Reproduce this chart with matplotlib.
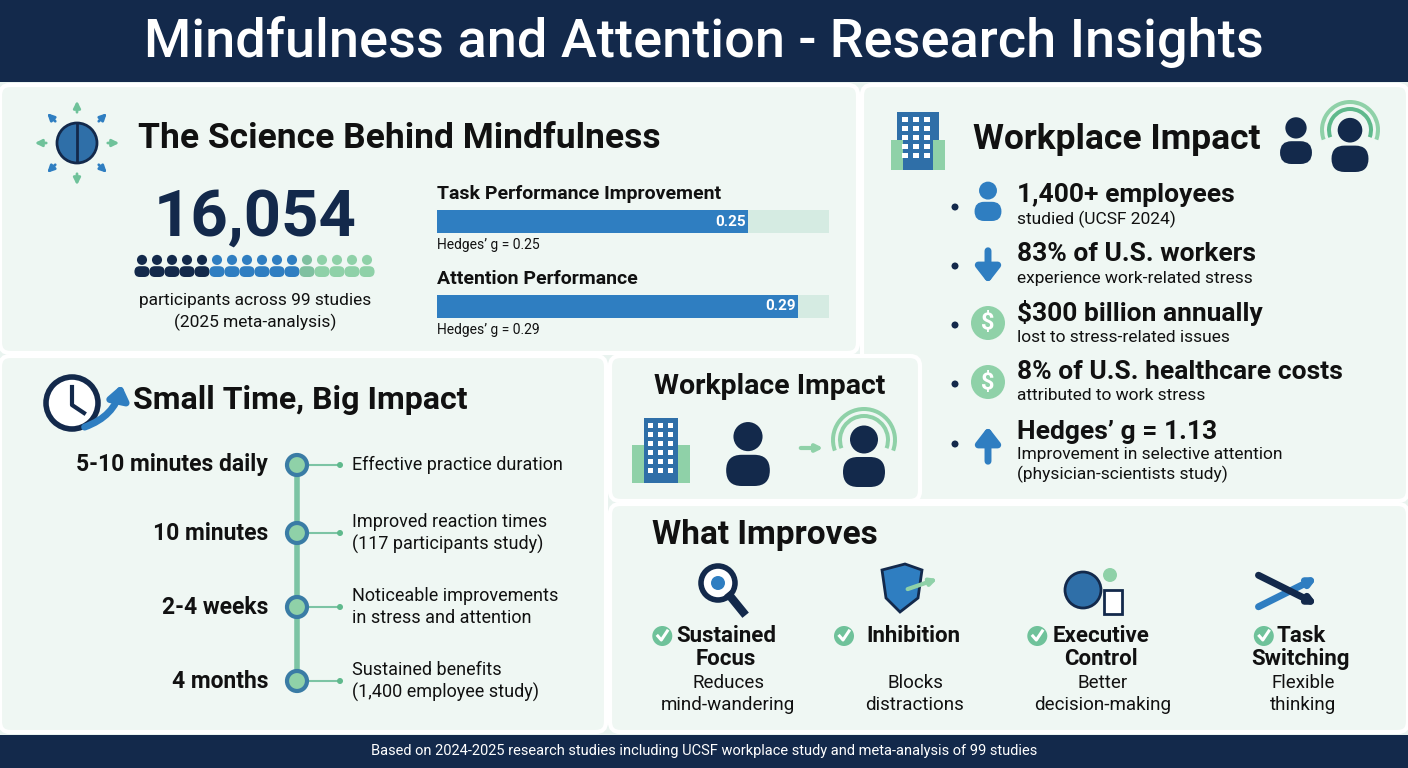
import matplotlib
matplotlib.use("Agg")
import matplotlib.pyplot as plt
from matplotlib.patches import FancyBboxPatch, Rectangle, Circle, Polygon, Wedge
import math

plt.rcParams['font.family'] = ['Roboto', 'DejaVu Sans']

# ---------------- data ----------------
title = "Mindfulness and Attention - Research Insights"
participants = "16,054"
participants_note = ["participants across 99 studies", "(2025 meta-analysis)"]
bar_titles = ["Task Performance Improvement", "Attention Performance"]
bar_values = [0.25, 0.29]
bar_notes = ["Hedges\u2019 g = 0.25", "Hedges\u2019 g = 0.29"]
timeline_labels = ["5-10 minutes daily", "10 minutes", "2-4 weeks", "4 months"]
timeline_notes = ["Effective practice duration",
                  "Improved reaction times\n(117 participants study)",
                  "Noticeable improvements\nin stress and attention",
                  "Sustained benefits\n(1,400 employee study)"]
stat_heads = ["1,400+ employees", "83% of U.S. workers", "$300 billion annually",
              "8% of U.S. healthcare costs", "Hedges\u2019 g = 1.13"]
stat_subs = ["studied (UCSF 2024)", "experience work-related stress",
             "lost to stress-related issues", "attributed to work stress",
             "Improvement in selective attention\n(physician-scientists study)"]
improve_heads = ["Sustained\nFocus", "Inhibition", "Executive\nControl", "Task\nSwitching"]
improve_subs = ["Reduces\nmind-wandering", "Blocks\ndistractions", "Better\ndecision-making", "Flexible\nthinking"]
footer = "Based on 2024-2025 research studies including UCSF workplace study and meta-analysis of 99 studies"

NAVY = "#13294b"
DARK = "#111111"
BLUE = "#2f7ec1"
GREEN = "#8fd1a8"
TEAL = "#3a7ca5"
BG = "#e9f3ef"
PANEL = "#eff7f3"

fig = plt.figure(figsize=(14.08, 7.68), dpi=100)
ax = fig.add_axes([0, 0, 1, 1])
ax.set_xlim(0, 1408); ax.set_ylim(768, 0); ax.axis('off')
fig.patch.set_facecolor(BG)

def panel(x, y, w, h):
    ax.add_patch(FancyBboxPatch((x, y), w, h, boxstyle="round,pad=0,rounding_size=10",
                                fc=PANEL, ec="white", lw=3, zorder=1))

ax.add_patch(Rectangle((0, 0), 1408, 82, fc=NAVY, zorder=2))
ax.text(704, 42, title, color="white", fontsize=39, fontweight="medium", ha="center", va="center", zorder=3)
panel(0, 85, 858, 268)
panel(862, 85, 546, 416)
panel(610, 356, 310, 145)
panel(0, 356, 606, 376)
panel(610, 504, 798, 228)
ax.add_patch(Rectangle((0, 735), 1408, 33, fc=NAVY, zorder=2))
ax.text(704, 751, footer, color="white", fontsize=10.5, ha="center", va="center", zorder=3)

def person(cx, cy, s, color, z=4):
    ax.add_patch(Circle((cx, cy - 0.45 * s), 0.28 * s, fc=color, ec="none", zorder=z))
    ax.add_patch(FancyBboxPatch((cx - 0.42 * s, cy - 0.1 * s), 0.84 * s, 0.6 * s,
                                boxstyle="round,pad=0,rounding_size=%f" % (0.3 * s), fc=color, ec="none", zorder=z))

# ---- science panel
ax.add_patch(Circle((77, 143), 20, fc="#2f6fa8", ec=NAVY, lw=2, zorder=4))
ax.plot([77, 77], [124, 162], color=NAVY, lw=2, zorder=5)
for i in range(8):
    a = math.radians(i * 45)
    c = BLUE if i % 2 else "#6fc29a"
    ax.annotate("", xy=(77 + 45 * math.cos(a), 143 + 45 * math.sin(a)),
                xytext=(77 + 28 * math.cos(a), 143 + 28 * math.sin(a)),
                arrowprops=dict(arrowstyle="-|>", color=c, lw=2), zorder=4)
ax.text(138, 138, "The Science Behind Mindfulness", fontsize=25.5, fontweight="bold", color=DARK, va="center", zorder=4)
ax.text(255, 218, participants, fontsize=47, fontweight="bold", color=NAVY, ha="center", va="center", zorder=4)
cols = [NAVY] * 5 + [BLUE] * 6 + ["#7fc0a0"] + [GREEN] * 4
for i, c in enumerate(cols):
    person(142 + i * 15, 268, 18, c)
ax.text(255, 300, participants_note[0], fontsize=12.5, color=DARK, ha="center", va="center", zorder=4)
ax.text(255, 322, participants_note[1], fontsize=12.5, color=DARK, ha="center", va="center", zorder=4)

for i, (t, v, n) in enumerate(zip(bar_titles, bar_values, bar_notes)):
    y0 = 194 + i * 85
    ax.text(437, y0, t, fontsize=14, fontweight="bold", color=DARK, va="center", zorder=4)
    ax.text(437, y0 + 51, n, fontsize=10, color=DARK, va="center", zorder=4)
    bax = fig.add_axes([437 / 1408, 1 - (y0 + 39) / 768, 392 / 1408, 23 / 768])
    bax.set_xlim(0, 0.315); bax.set_ylim(-0.5, 0.5); bax.axis('off')
    bax.barh(0, 0.315, height=1, color="#d5ebe2")
    bax.barh(0, v, height=1, color=BLUE)
    bax.text(v - 0.002, 0, f"{v:.2f}", color="white", fontsize=11, fontweight="bold", ha="right", va="center")

# ---- workplace stats panel
ax.add_patch(Rectangle((897, 112), 42, 58, fc="#2f6fa8", zorder=4))
ax.add_patch(Rectangle((891, 140), 12, 30, fc=GREEN, zorder=4))
ax.add_patch(Rectangle((933, 140), 12, 30, fc=GREEN, zorder=4))
for r in range(5):
    for c in range(3):
        ax.add_patch(Rectangle((902 + c * 11, 117 + r * 9), 6, 5, fc="white", zorder=5))
ax.text(973, 140, "Workplace Impact", fontsize=25.5, fontweight="bold", color=DARK, va="center", zorder=4)
person(1296, 145, 38, NAVY)
for r, c in [(30, "#8fd1a8"), (23, "#5fb98c")]:
    ax.add_patch(Wedge((1350, 130), r, -200, 20, width=4, fc=c, zorder=4))
person(1350, 150, 44, NAVY)
ys = [195, 254, 313, 372, 432]
for i, (h, s, y) in enumerate(zip(stat_heads, stat_subs, ys)):
    ax.add_patch(Circle((955, y + 12), 3.5, fc=NAVY, zorder=4))
    if i == 0:
        person(988, y + 10, 32, BLUE)
    elif i == 1:
        ax.annotate("", xy=(988, y + 32), xytext=(988, y - 6),
                    arrowprops=dict(arrowstyle="-|>,head_width=0.7,head_length=0.9", color=BLUE, lw=5), zorder=4)
    elif i in (2, 3):
        ax.add_patch(Circle((988, y + 10), 17, fc=GREEN, zorder=4))
        ax.text(988, y + 10, "$", color="white", fontsize=17, fontweight="bold", ha="center", va="center", zorder=5)
    else:
        ax.annotate("", xy=(988, y - 8), xytext=(988, y + 32),
                    arrowprops=dict(arrowstyle="-|>,head_width=0.7,head_length=0.9", color=BLUE, lw=5), zorder=4)
    ax.text(1017, y, h, fontsize=19, fontweight="bold", color=DARK, va="center", zorder=4)
    if "\n" in s:
        ax.text(1017, y + 15, s, fontsize=12.5, color=DARK, va="top", linespacing=1.25, zorder=4)
    else:
        ax.text(1017, y + 24, s, fontsize=12.5, color=DARK, va="center", zorder=4)

# ---- middle workplace panel
ax.text(770, 387, "Workplace Impact", fontsize=20.5, fontweight="bold", color=DARK, ha="center", va="center", zorder=4)
ax.add_patch(Rectangle((644, 418), 34, 65, fc="#2f6fa8", zorder=4))
ax.add_patch(Rectangle((632, 445), 12, 38, fc=GREEN, zorder=4))
ax.add_patch(Rectangle((678, 445), 12, 38, fc=GREEN, zorder=4))
for r in range(6):
    for c in range(3):
        ax.add_patch(Rectangle((648 + c * 10, 423 + r * 9), 5, 5, fc="white", zorder=5))
person(748, 460, 52, NAVY)
ax.annotate("", xy=(826, 448), xytext=(798, 448), arrowprops=dict(arrowstyle="-|>", color=GREEN, lw=3), zorder=4)
for r in (33, 26):
    ax.add_patch(Wedge((864, 440), r, -200, 20, width=4, fc=GREEN, zorder=4))
person(864, 462, 50, NAVY)

# ---- timeline panel
ax.add_patch(Circle((72, 403), 26, fc="white", ec=NAVY, lw=4, zorder=4))
ax.plot([72, 72, 84], [387, 405, 413], color=NAVY, lw=3, zorder=5)
ax.annotate("", xy=(122, 382), xytext=(82, 428),
            arrowprops=dict(arrowstyle="-|>,head_width=0.6,head_length=0.8", color=BLUE, lw=5,
                            connectionstyle="arc3,rad=0.3"), zorder=5)
ax.text(133, 400, "Small Time, Big Impact", fontsize=23, fontweight="bold", color=DARK, va="center", zorder=4)
tys = [465, 533, 607, 681]
ax.plot([297, 297], [tys[0], tys[-1]], color="#7cc4a4", lw=4, zorder=3)
for lab, note, y in zip(timeline_labels, timeline_notes, tys):
    ax.text(268, y, lab, fontsize=16.5, fontweight="bold", color=DARK, ha="right", va="center", zorder=4)
    ax.plot([297, 340], [y, y], color="#7cc4a4", lw=1.5, zorder=3)
    ax.add_patch(Circle((340, y), 3, fc="#5fb98c", zorder=4))
    ax.add_patch(Circle((297, y), 10, fc=GREEN, ec=TEAL, lw=3, zorder=4))
    if "\n" in note:
        l1, l2 = note.split("\n")
        ax.text(352, y - 11, l1, fontsize=13, color=DARK, va="center", zorder=4)
        ax.text(352, y + 11, l2, fontsize=13, color=DARK, va="center", zorder=4)
    else:
        ax.text(352, y, note, fontsize=13, color=DARK, va="center", zorder=4)

# ---- what improves
ax.text(652, 535, "What Improves", fontsize=24, fontweight="bold", color=DARK, va="center", zorder=4)
xs = [713, 900, 1088, 1288]
for i, (h, s, x) in enumerate(zip(improve_heads, improve_subs, xs)):
    if i == 0:
        ax.add_patch(Circle((x + 5, 583), 17, fc="white", ec=NAVY, lw=4, zorder=4))
        ax.add_patch(Circle((x + 5, 583), 7, fc=BLUE, zorder=5))
        ax.plot([x + 17, x + 30], [596, 612], color=NAVY, lw=6, zorder=4)
    elif i == 1:
        ax.add_patch(Polygon([(x - 18, 570), (x + 5, 564), (x + 22, 570), (x + 18, 598), (x, 612), (x - 14, 598)],
                             fc=BLUE, ec=NAVY, lw=2, zorder=4))
        ax.annotate("", xy=(x + 40, 578), xytext=(x + 5, 590), arrowprops=dict(arrowstyle="-|>", color=GREEN, lw=3), zorder=5)
    elif i == 2:
        ax.add_patch(Circle((x - 5, 590), 18, fc="#2f6fa8", ec=NAVY, lw=2, zorder=4))
        ax.add_patch(Rectangle((x + 16, 590), 18, 24, fc="white", ec=NAVY, lw=2, zorder=4))
        ax.add_patch(Circle((x + 22, 575), 7, fc=GREEN, zorder=4))
    else:
        ax.annotate("", xy=(x + 32, 576), xytext=(x - 32, 608),
                    arrowprops=dict(arrowstyle="-|>", color=BLUE, lw=5), zorder=4)
        ax.annotate("", xy=(x + 32, 606), xytext=(x - 32, 574),
                    arrowprops=dict(arrowstyle="-|>", color=NAVY, lw=5), zorder=4)
    lines = h.split("\n")
    first = lines[0]
    ax.text(x + 13, 636, first, fontsize=16, fontweight="bold", color=DARK, ha="center", va="center", zorder=4)
    wlen = len(first) * 5.3
    cx = x + 13 - wlen - 16
    ax.add_patch(Circle((cx, 636), 10, fc="#6fc29a", zorder=4))
    ax.plot([cx - 4.5, cx - 1, cx + 5], [636, 640, 631], color="white", lw=2.2, zorder=5)
    if len(lines) > 1:
        ax.text(x + 13, 659, lines[1], fontsize=16, fontweight="bold", color=DARK, ha="center", va="center", zorder=4)
    s1, s2 = s.split("\n")
    ax.text(x + 15, 683, s1, fontsize=13.5, color=DARK, ha="center", va="center", zorder=4)
    ax.text(x + 15, 705, s2, fontsize=13.5, color=DARK, ha="center", va="center", zorder=4)

fig.savefig("out.png", dpi=100, facecolor=fig.get_facecolor())
